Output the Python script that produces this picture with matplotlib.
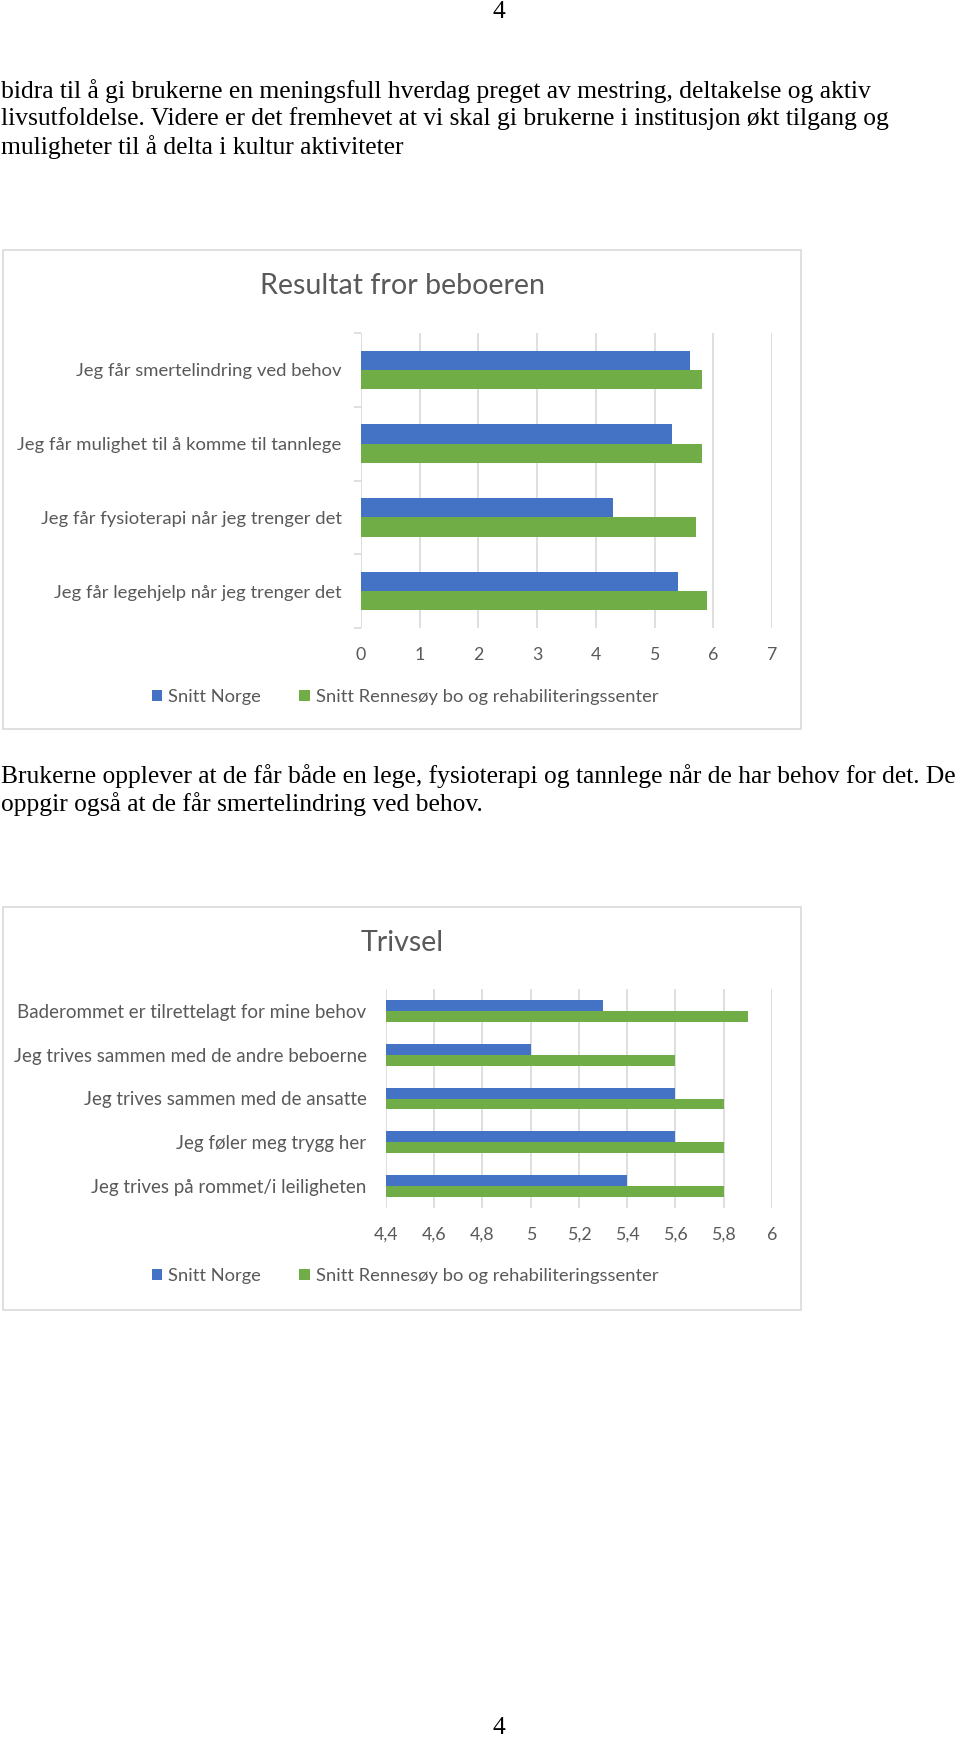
import numpy as np
import matplotlib
matplotlib.use("Agg")
import matplotlib.pyplot as plt
from matplotlib.patches import Rectangle

W, H = 960, 1741

# chart 1 - Resultat fror beboeren
cats1 = ["Jeg får smertelindring ved behov",
         "Jeg får mulighet til å komme til tannlege",
         "Jeg får fysioterapi når jeg trenger det",
         "Jeg får legehjelp når jeg trenger det"]
norge1 = [5.6, 5.3, 4.3, 5.4]
rennesoy1 = [5.8, 5.8, 5.7, 5.9]
ticks1 = [0, 1, 2, 3, 4, 5, 6, 7]

# chart 2 - Trivsel
cats2 = ["Baderommet er tilrettelagt for mine behov",
         "Jeg trives sammen med de andre beboerne",
         "Jeg trives sammen med de ansatte",
         "Jeg føler meg trygg her",
         "Jeg trives på rommet/i leiligheten"]
norge2 = [5.3, 5.0, 5.6, 5.6, 5.4]
rennesoy2 = [5.9, 5.6, 5.8, 5.8, 5.8]
ticks2 = [4.4, 4.6, 4.8, 5.0, 5.2, 5.4, 5.6, 5.8, 6.0]

series = ["Snitt Norge", "Snitt Rennesøy bo og rehabiliteringssenter"]

para1 = ["bidra til å gi brukerne en meningsfull hverdag preget av mestring, deltakelse og aktiv",
         "livsutfoldelse. Videre er det fremhevet at vi skal gi brukerne i institusjon økt tilgang og",
         "muligheter til å delta i kultur aktiviteter"]
para2 = ["Brukerne opplever at de får både en lege, fysioterapi og tannlege når de har behov for det. De",
         "oppgir også at de får smertelindring ved behov."]

BLUE = "#4472C4"
GREEN = "#70AD47"
GREY = "#595959"
GRID = "#d9d9d9"
SANS = "Lato"
SERIF = "Liberation Serif"
BODY = 18.4

fig = plt.figure(figsize=(W / 100, H / 100), dpi=100)
fig.patch.set_facecolor("white")

def fx(px):
    return px / W

def fy(py):
    return 1 - py / H

def axes_px(left, top, right, bottom):
    return fig.add_axes([fx(left), fy(bottom), (right - left) / W, (bottom - top) / H])

# page number + body text
fig.text(fx(499), fy(12), "4", family=SERIF, fontsize=BODY, ha="center", va="center")
fig.text(fx(499), fy(1728), "4", family=SERIF, fontsize=BODY, ha="center", va="center")
for i, line in enumerate(para1):
    fig.text(fx(1), fy(91 + i * 28), line, family=SERIF, fontsize=BODY, ha="left", va="center")
for i, line in enumerate(para2):
    fig.text(fx(1), fy(776 + i * 28), line, family=SERIF, fontsize=BODY, ha="left", va="center")

def chart(box, title, title_y, area, cats, a, b, ticks, xlim, hbar, legend_y, fmt, minor, labsize):
    x0, y0, x1, y1 = box
    fig.patches.append(Rectangle((fx(x0), fy(y1)), (x1 - x0) / W, (y1 - y0) / H,
                                 transform=fig.transFigure, fill=False,
                                 edgecolor=GRID, lw=1.2))
    fig.text(fx(402), fy(title_y), title, family=SANS, fontsize=20.6, color=GREY,
             ha="center", va="center")
    ax = axes_px(*area)
    y = np.arange(len(cats))
    hb = ax.barh(y - hbar / 2, a, height=hbar, color=BLUE, label=series[0], zorder=3)
    hg = ax.barh(y + hbar / 2, b, height=hbar, color=GREEN, label=series[1], zorder=3)
    ax.set_xlim(*xlim)
    ax.set_ylim(len(cats) - 0.5, -0.5)
    ax.set_xticks(ticks)
    ax.set_xticklabels([fmt(t) for t in ticks])
    ax.set_yticks(y)
    ax.set_yticklabels(cats)
    for s in ax.spines.values():
        s.set_visible(False)
    ax.grid(axis="x", color=GRID, lw=1.2, zorder=0)
    ax.tick_params(axis="y", length=0, pad=14, labelsize=labsize, labelcolor=GREY)
    ax.tick_params(axis="x", length=0, pad=13.5, labelsize=12.8, labelcolor=GREY)
    for lab in ax.get_xticklabels() + ax.get_yticklabels():
        lab.set_family(SANS)
    if minor:
        ax.set_yticks(np.arange(len(cats) + 1) - 0.5, minor=True)
        ax.tick_params(axis="y", which="minor", length=5, color=GRID, width=1.2)
    leg = fig.legend([hb, hg], series, loc="center", bbox_to_anchor=(fx(405), fy(legend_y)),
                     ncol=2, frameon=False, handlelength=0.55, handleheight=0.55,
                     handletextpad=0.35, columnspacing=2.1,
                     prop={"family": SANS, "size": 13.2})
    for t in leg.get_texts():
        t.set_color(GREY)
    return ax

chart((3, 250, 801, 729), "Resultat fror beboeren", 286, (361, 333, 772, 628),
      cats1, norge1, rennesoy1, ticks1, (0, 7), 0.26, 697,
      lambda t: "%d" % t, True, 13.3)

chart((3, 907, 801, 1310), "Trivsel", 943, (386, 989, 772, 1208),
      cats2, norge2, rennesoy2, ticks2, (4.4, 6.0), 0.25, 1276,
      lambda t: ("%g" % round(t, 1)).replace(".", ","), False, 13.5)

fig.savefig("out.png", dpi=100, facecolor="white")
